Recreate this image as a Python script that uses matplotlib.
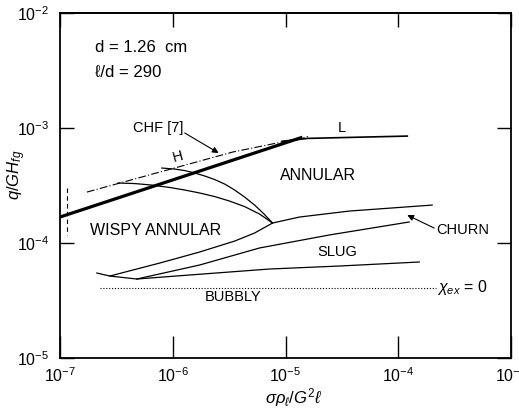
import numpy as np
import matplotlib

matplotlib.use("Agg")
import matplotlib.pyplot as plt
from matplotlib.ticker import LogLocator, NullLocator

plt.rcParams["font.family"] = ["Liberation Sans", "DejaVu Sans"]
plt.rcParams["mathtext.fontset"] = "custom"
plt.rcParams["mathtext.rm"] = "Liberation Sans"
plt.rcParams["mathtext.it"] = "Liberation Sans:italic"
plt.rcParams["mathtext.bf"] = "Liberation Sans:bold"

# all curves as log10 values
# x = sigma*rho_l / G^2 l, y = q / G H_fg
THICK_X = [-7.0, -4.85]
THICK_Y = [-3.774, -3.08]

L_X = [-5.03, -4.80, -3.92]
L_Y = [-3.115, -3.09, -3.07]

CHF_X = [-6.761, -5.469, -4.80]
CHF_Y = [-3.557, -3.209, -3.075]

H_UPPER_X = [-6.097, -5.982, -5.894, -5.805, -5.717, -5.628, -5.540, -5.451, -5.363, -5.274, -5.195, -5.115]
H_UPPER_Y = [-3.348, -3.357, -3.370, -3.391, -3.417, -3.448, -3.487, -3.539, -3.600, -3.670, -3.743, -3.826]

H_LOWER_X = [-6.487, -6.336, -6.186, -6.027, -5.894, -5.761, -5.628, -5.496, -5.363, -5.230, -5.115]
H_LOWER_Y = [-3.478, -3.483, -3.496, -3.517, -3.539, -3.565, -3.596, -3.635, -3.683, -3.748, -3.826]

CHURN_TOP_X = [-6.558, -6.115, -5.761, -5.451, -5.274, -5.115, -4.876, -4.434, -3.699]
CHURN_TOP_Y = [-4.287, -4.174, -4.078, -3.983, -3.913, -3.826, -3.774, -3.722, -3.670]

SLUG_TOP_X = [-6.319, -5.761, -5.230, -4.611, -3.903]
SLUG_TOP_Y = [-4.313, -4.191, -4.043, -3.930, -3.817]

BUBBLY_TOP_X = [-6.673, -6.558, -6.319, -5.850, -5.142, -4.522, -3.814]
BUBBLY_TOP_Y = [-4.261, -4.287, -4.313, -4.278, -4.226, -4.200, -4.165]

XEX0_X = [-6.646, -3.664]
XEX0_Y = [-4.391, -4.391]

LIMIT_X = [-6.938, -6.938]
LIMIT_Y = [-3.52, -3.93]


def pw(vals):
    return 10 ** np.asarray(vals)


fig = plt.figure(figsize=(5.19, 4.15), dpi=100)
ax = fig.add_axes([0.1156, 0.1373, 0.869, 0.8313])
ax.set_xscale("log")
ax.set_yscale("log")
ax.set_xlim(1e-7, 1e-3)
ax.set_ylim(1e-5, 1e-2)

k = "black"
ax.plot(pw(THICK_X), pw(THICK_Y), color=k, lw=2.3, solid_capstyle="butt")
ax.plot(pw(L_X), pw(L_Y), color=k, lw=1.2)
ax.plot(pw(CHF_X), pw(CHF_Y), color=k, lw=0.8, dashes=(7, 2, 1, 2))
for xs, ys in [(H_UPPER_X, H_UPPER_Y), (H_LOWER_X, H_LOWER_Y),
               (CHURN_TOP_X, CHURN_TOP_Y), (SLUG_TOP_X, SLUG_TOP_Y),
               (BUBBLY_TOP_X, BUBBLY_TOP_Y)]:
    ax.plot(pw(xs), pw(ys), color=k, lw=0.9)
ax.plot(pw(XEX0_X), pw(XEX0_Y), color=k, lw=0.8, dashes=(1, 1.6))
ax.plot(pw(LIMIT_X), pw(LIMIT_Y), color=k, lw=0.8, dashes=(4, 3))

fs = 11.5
ax.text(10 ** -6.69, 10 ** -2.296, "d = 1.26  cm", fontsize=12, va="center")
ax.text(10 ** -6.69, 10 ** -2.513, "\u2113/d = 290", fontsize=12, va="center")
ax.text(10 ** -6.354, 10 ** -3.0, "CHF [7]", fontsize=10.5, va="center")
ax.annotate("", xy=(10 ** -5.593, 10 ** -3.217), xytext=(10 ** -5.894, 10 ** -3.043),
            arrowprops=dict(arrowstyle="-|>", color=k, lw=0.8,
                            mutation_scale=9, shrinkA=0, shrinkB=0))
ax.text(10 ** -5.956, 10 ** -3.252, "H", fontsize=10.5, ha="center", va="center", rotation=15)
ax.text(10 ** -4.504, 10 ** -3.0, "L", fontsize=10.5, ha="center", va="center")
ax.text(10 ** -4.708, 10 ** -3.417, "ANNULAR", fontsize=fs, ha="center", va="center")
ax.text(10 ** -6.735, 10 ** -3.887, "WISPY ANNULAR", fontsize=fs, va="center")
ax.text(10 ** -3.664, 10 ** -3.887, "CHURN", fontsize=10.5, va="center")
ax.annotate("", xy=(10 ** -3.920, 10 ** -3.757), xytext=(10 ** -3.681, 10 ** -3.870),
            arrowprops=dict(arrowstyle="-|>", color=k, lw=0.8,
                            mutation_scale=9, shrinkA=0, shrinkB=0))
ax.text(10 ** -4.540, 10 ** -4.078, "SLUG", fontsize=10.5, ha="center", va="center")
ax.text(10 ** -5.469, 10 ** -4.470, "BUBBLY", fontsize=10.5, ha="center", va="center")
ax.text(10 ** -3.655, 10 ** -4.383, r"$\chi_{ex}$ = 0", fontsize=11.5, va="center")

ax.set_xlabel(r"$\sigma\rho_\ell/G^2\ell$", fontsize=12)
ax.xaxis.set_label_coords(0.519, -0.081)
ax.set_ylabel(r"$q/GH_{fg}$", fontsize=12)
ax.yaxis.set_label_coords(-0.071, 0.53)

for axis in (ax.xaxis, ax.yaxis):
    axis.set_major_locator(LogLocator(base=10, numticks=10))
    axis.set_minor_locator(NullLocator())
ax.tick_params(axis="x", which="major", direction="in", length=16, width=1,
               labelsize=11.5, pad=6)
ax.tick_params(axis="y", which="major", direction="in", length=10, width=1,
               labelsize=11.5, pad=8, right=True)

top = ax.secondary_xaxis("top")
top.set_xscale("log")
top.xaxis.set_major_locator(LogLocator(base=10, numticks=10))
top.xaxis.set_minor_locator(NullLocator())
top.tick_params(direction="in", length=10, width=1, labeltop=False)

for s in ax.spines.values():
    s.set_linewidth(1.3)
top.spines["top"].set_linewidth(1.3)

fig.savefig("out.png", dpi=100)
